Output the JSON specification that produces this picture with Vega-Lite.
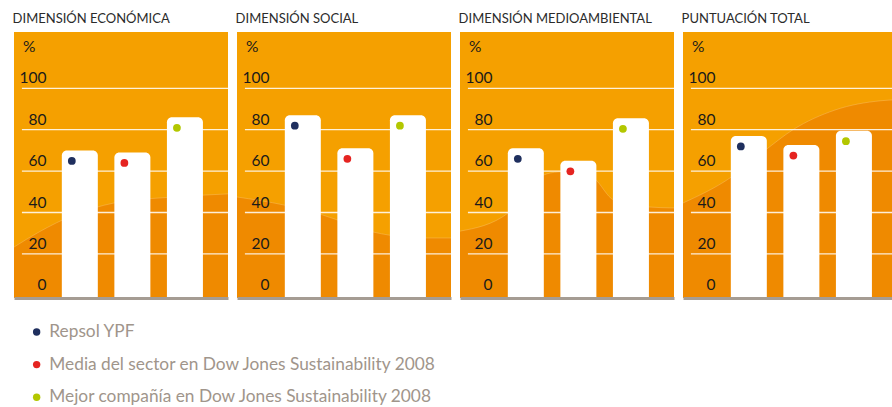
{
  "$schema": "https://vega.github.io/schema/vega-lite/v6.json",
  "background": "white",
  "padding": {"left": 12, "top": 13, "right": 0, "bottom": 0},
  "spacing": 9,
  "bounds": "flush",
  "config": {
    "view": {"fill": "#F5A000", "stroke": null},
    "font": "Lato",
    "title": {"anchor": "start", "font": "Lato", "fontSize": 13, "fontWeight": "normal", "color": "#2B2B2B", "offset": 6, "baseline": "alphabetic"}
  },
  "datasets": {
    "scores": [
      {"panel": "eco", "serie": "Repsol YPF", "v": 70},
      {"panel": "eco", "serie": "Media del sector en Dow Jones Sustainability 2008", "v": 69},
      {"panel": "eco", "serie": "Mejor compañía en Dow Jones Sustainability 2008", "v": 86},
      {"panel": "soc", "serie": "Repsol YPF", "v": 87},
      {"panel": "soc", "serie": "Media del sector en Dow Jones Sustainability 2008", "v": 71},
      {"panel": "soc", "serie": "Mejor compañía en Dow Jones Sustainability 2008", "v": 87},
      {"panel": "med", "serie": "Repsol YPF", "v": 71},
      {"panel": "med", "serie": "Media del sector en Dow Jones Sustainability 2008", "v": 65},
      {"panel": "med", "serie": "Mejor compañía en Dow Jones Sustainability 2008", "v": 85.5},
      {"panel": "tot", "serie": "Repsol YPF", "v": 77},
      {"panel": "tot", "serie": "Media del sector en Dow Jones Sustainability 2008", "v": 72.6},
      {"panel": "tot", "serie": "Mejor compañía en Dow Jones Sustainability 2008", "v": 79.5}
    ],
    "wave": [
      {"panel": "eco", "t": 0, "v": 23.3},
      {"panel": "eco", "t": 11.7, "v": 30.6},
      {"panel": "eco", "t": 28, "v": 38.8},
      {"panel": "eco", "t": 46.7, "v": 44.6},
      {"panel": "eco", "t": 74.8, "v": 47.5},
      {"panel": "eco", "t": 100, "v": 49},
      {"panel": "soc", "t": 0, "v": 47.5},
      {"panel": "soc", "t": 22, "v": 43.6},
      {"panel": "soc", "t": 40, "v": 38.8},
      {"panel": "soc", "t": 63.5, "v": 30.6},
      {"panel": "soc", "t": 71.5, "v": 29},
      {"panel": "soc", "t": 87, "v": 27.7},
      {"panel": "soc", "t": 100, "v": 27.7},
      {"panel": "med", "t": 0, "v": 31},
      {"panel": "med", "t": 22.4, "v": 39.7},
      {"panel": "med", "t": 38.8, "v": 58},
      {"panel": "med", "t": 46, "v": 59.6},
      {"panel": "med", "t": 57, "v": 60},
      {"panel": "med", "t": 62.6, "v": 56.7},
      {"panel": "med", "t": 71.9, "v": 46},
      {"panel": "med", "t": 87.8, "v": 42.7},
      {"panel": "med", "t": 100, "v": 42.2},
      {"panel": "tot", "t": 0, "v": 44.6},
      {"panel": "tot", "t": 22.4, "v": 57},
      {"panel": "tot", "t": 38.3, "v": 70},
      {"panel": "tot", "t": 51.4, "v": 80},
      {"panel": "tot", "t": 71, "v": 89.5},
      {"panel": "tot", "t": 92.5, "v": 94},
      {"panel": "tot", "t": 100, "v": 94.5}
    ],
    "grid": [{"v": 20}, {"v": 40}, {"v": 60}, {"v": 80}, {"v": 100}]
  },
  "resolve": {"scale": {"color": "shared"}, "legend": {"color": "shared"}},
  "hconcat": [
    {
      "width": 214, "height": 266,
      "title": "DIMENSIÓN ECONÓMICA",
      "resolve": {"scale": {"x": "independent"}, "axis": {"x": "independent"}},
      "layer": [
        {
          "layer": [
            {
              "data": {"name": "wave"},
              "transform": [{"filter": "datum.panel === 'eco'"}],
              "mark": {"type": "area", "color": "#EF8A00", "interpolate": "monotone", "opacity": 1},
              "encoding": {
                "x": {"field": "t", "type": "quantitative", "scale": {"domain": [0, 100]}, "axis": null},
                "y": {"field": "v", "type": "quantitative", "scale": {"domain": [-1.3, 127.2], "nice": false, "zero": false}, "axis": {"values": [0, 20, 40, 60, 80, 100], "grid": false, "ticks": false, "tickSize": 0, "domain": false, "labelPadding": -32, "labelAlign": "right", "labelBaseline": "alphabetic", "labelOffset": -5.5, "labelFontSize": 15.5, "labelFont": "Lato", "labelColor": "#1A1A1A", "title": "%", "titleAngle": 0, "titleAlign": "left", "titleBaseline": "alphabetic", "titleX": 8.5, "titleY": 19, "titleFontSize": 15.5, "titleFont": "Lato", "titleFontWeight": "normal", "titleColor": "#1A1A1A", "zindex": 1, "minExtent": 0, "offset": 0}},
                "y2": {"datum": -1.3}
              }
            },
            {
              "data": {"name": "wave"},
              "transform": [{"filter": "datum.panel === 'eco'"}],
              "mark": {"type": "line", "color": "#FAC56F", "interpolate": "monotone", "strokeWidth": 0.7, "opacity": 0.6},
              "encoding": {
                "x": {"field": "t", "type": "quantitative"},
                "y": {"field": "v", "type": "quantitative"}
              }
            },
            {
              "data": {"name": "grid"},
              "mark": {"type": "rule", "color": "#FFFFFF", "strokeWidth": 1.3, "opacity": 0.85},
              "encoding": {
                "x": {"datum": 3.7, "type": "quantitative"},
                "x2": {"datum": 100},
                "y": {"field": "v", "type": "quantitative"}
              }
            }
          ]
        },
        {
          "data": {"name": "scores"},
          "transform": [{"filter": "datum.panel === 'eco'"}],
          "layer": [
            {
              "mark": {"type": "bar", "color": "#FFFFFF", "cornerRadiusTopLeft": 5, "cornerRadiusTopRight": 5},
              "encoding": {
                "x": {"field": "serie", "type": "nominal", "sort": ["Repsol YPF", "Media del sector en Dow Jones Sustainability 2008", "Mejor compañía en Dow Jones Sustainability 2008"], "scale": {"paddingInner": 0.315, "paddingOuter": 0.6936, "align": 0.656}, "axis": {"orient": "bottom", "title": null, "labels": false, "ticks": false, "grid": false, "domain": true, "domainColor": "#A59C93", "domainWidth": 3, "zindex": 1}},
                "y": {"field": "v", "type": "quantitative"},
                "y2": {"datum": -1.3}
              }
            },
            {
              "mark": {"type": "circle", "size": 60, "opacity": 1, "xOffset": -8, "yOffset": 10.5},
              "encoding": {
                "x": {"field": "serie", "type": "nominal", "sort": ["Repsol YPF", "Media del sector en Dow Jones Sustainability 2008", "Mejor compañía en Dow Jones Sustainability 2008"]},
                "y": {"field": "v", "type": "quantitative"},
                "color": {"field": "serie", "type": "nominal", "scale": {"domain": ["Repsol YPF", "Media del sector en Dow Jones Sustainability 2008", "Mejor compañía en Dow Jones Sustainability 2008"], "range": ["#1F2F5E", "#E52421", "#B3C700"]}, "legend": {"orient": "none", "legendX": 14, "legendY": 292, "title": null, "direction": "vertical", "symbolType": "circle", "symbolSize": 55, "symbolStrokeWidth": 0, "labelFontSize": 17.3, "labelFont": "Lato", "labelColor": "#A0958B", "rowPadding": 14.6, "labelOffset": 4, "clipHeight": 16, "labelLimit": 600}}
              }
            }
          ]
        }
      ]
    },
    {
      "width": 214, "height": 266,
      "title": "DIMENSIÓN SOCIAL",
      "resolve": {"scale": {"x": "independent"}, "axis": {"x": "independent"}},
      "layer": [
        {
          "layer": [
            {
              "data": {"name": "wave"},
              "transform": [{"filter": "datum.panel === 'soc'"}],
              "mark": {"type": "area", "color": "#EF8A00", "interpolate": "monotone", "opacity": 1},
              "encoding": {
                "x": {"field": "t", "type": "quantitative", "scale": {"domain": [0, 100]}, "axis": null},
                "y": {"field": "v", "type": "quantitative", "scale": {"domain": [-1.3, 127.2], "nice": false, "zero": false}, "axis": {"values": [0, 20, 40, 60, 80, 100], "grid": false, "ticks": false, "tickSize": 0, "domain": false, "labelPadding": -32, "labelAlign": "right", "labelBaseline": "alphabetic", "labelOffset": -5.5, "labelFontSize": 15.5, "labelFont": "Lato", "labelColor": "#1A1A1A", "title": "%", "titleAngle": 0, "titleAlign": "left", "titleBaseline": "alphabetic", "titleX": 8.5, "titleY": 19, "titleFontSize": 15.5, "titleFont": "Lato", "titleFontWeight": "normal", "titleColor": "#1A1A1A", "zindex": 1, "minExtent": 0, "offset": 0}},
                "y2": {"datum": -1.3}
              }
            },
            {
              "data": {"name": "wave"},
              "transform": [{"filter": "datum.panel === 'soc'"}],
              "mark": {"type": "line", "color": "#FAC56F", "interpolate": "monotone", "strokeWidth": 0.7, "opacity": 0.6},
              "encoding": {
                "x": {"field": "t", "type": "quantitative"},
                "y": {"field": "v", "type": "quantitative"}
              }
            },
            {
              "data": {"name": "grid"},
              "mark": {"type": "rule", "color": "#FFFFFF", "strokeWidth": 1.3, "opacity": 0.85},
              "encoding": {
                "x": {"datum": 3.7, "type": "quantitative"},
                "x2": {"datum": 100},
                "y": {"field": "v", "type": "quantitative"}
              }
            }
          ]
        },
        {
          "data": {"name": "scores"},
          "transform": [{"filter": "datum.panel === 'soc'"}],
          "layer": [
            {
              "mark": {"type": "bar", "color": "#FFFFFF", "cornerRadiusTopLeft": 5, "cornerRadiusTopRight": 5},
              "encoding": {
                "x": {"field": "serie", "type": "nominal", "sort": ["Repsol YPF", "Media del sector en Dow Jones Sustainability 2008", "Mejor compañía en Dow Jones Sustainability 2008"], "scale": {"paddingInner": 0.315, "paddingOuter": 0.6936, "align": 0.656}, "axis": {"orient": "bottom", "title": null, "labels": false, "ticks": false, "grid": false, "domain": true, "domainColor": "#A59C93", "domainWidth": 3, "zindex": 1}},
                "y": {"field": "v", "type": "quantitative"},
                "y2": {"datum": -1.3}
              }
            },
            {
              "mark": {"type": "circle", "size": 60, "opacity": 1, "xOffset": -8, "yOffset": 10.5},
              "encoding": {
                "x": {"field": "serie", "type": "nominal", "sort": ["Repsol YPF", "Media del sector en Dow Jones Sustainability 2008", "Mejor compañía en Dow Jones Sustainability 2008"]},
                "y": {"field": "v", "type": "quantitative"},
                "color": {"field": "serie", "type": "nominal"}
              }
            }
          ]
        }
      ]
    },
    {
      "width": 214, "height": 266,
      "title": "DIMENSIÓN MEDIOAMBIENTAL",
      "resolve": {"scale": {"x": "independent"}, "axis": {"x": "independent"}},
      "layer": [
        {
          "layer": [
            {
              "data": {"name": "wave"},
              "transform": [{"filter": "datum.panel === 'med'"}],
              "mark": {"type": "area", "color": "#EF8A00", "interpolate": "monotone", "opacity": 1},
              "encoding": {
                "x": {"field": "t", "type": "quantitative", "scale": {"domain": [0, 100]}, "axis": null},
                "y": {"field": "v", "type": "quantitative", "scale": {"domain": [-1.3, 127.2], "nice": false, "zero": false}, "axis": {"values": [0, 20, 40, 60, 80, 100], "grid": false, "ticks": false, "tickSize": 0, "domain": false, "labelPadding": -32, "labelAlign": "right", "labelBaseline": "alphabetic", "labelOffset": -5.5, "labelFontSize": 15.5, "labelFont": "Lato", "labelColor": "#1A1A1A", "title": "%", "titleAngle": 0, "titleAlign": "left", "titleBaseline": "alphabetic", "titleX": 8.5, "titleY": 19, "titleFontSize": 15.5, "titleFont": "Lato", "titleFontWeight": "normal", "titleColor": "#1A1A1A", "zindex": 1, "minExtent": 0, "offset": 0}},
                "y2": {"datum": -1.3}
              }
            },
            {
              "data": {"name": "wave"},
              "transform": [{"filter": "datum.panel === 'med'"}],
              "mark": {"type": "line", "color": "#FAC56F", "interpolate": "monotone", "strokeWidth": 0.7, "opacity": 0.6},
              "encoding": {
                "x": {"field": "t", "type": "quantitative"},
                "y": {"field": "v", "type": "quantitative"}
              }
            },
            {
              "data": {"name": "grid"},
              "mark": {"type": "rule", "color": "#FFFFFF", "strokeWidth": 1.3, "opacity": 0.85},
              "encoding": {
                "x": {"datum": 3.7, "type": "quantitative"},
                "x2": {"datum": 100},
                "y": {"field": "v", "type": "quantitative"}
              }
            }
          ]
        },
        {
          "data": {"name": "scores"},
          "transform": [{"filter": "datum.panel === 'med'"}],
          "layer": [
            {
              "mark": {"type": "bar", "color": "#FFFFFF", "cornerRadiusTopLeft": 5, "cornerRadiusTopRight": 5},
              "encoding": {
                "x": {"field": "serie", "type": "nominal", "sort": ["Repsol YPF", "Media del sector en Dow Jones Sustainability 2008", "Mejor compañía en Dow Jones Sustainability 2008"], "scale": {"paddingInner": 0.315, "paddingOuter": 0.6936, "align": 0.656}, "axis": {"orient": "bottom", "title": null, "labels": false, "ticks": false, "grid": false, "domain": true, "domainColor": "#A59C93", "domainWidth": 3, "zindex": 1}},
                "y": {"field": "v", "type": "quantitative"},
                "y2": {"datum": -1.3}
              }
            },
            {
              "mark": {"type": "circle", "size": 60, "opacity": 1, "xOffset": -8, "yOffset": 10.5},
              "encoding": {
                "x": {"field": "serie", "type": "nominal", "sort": ["Repsol YPF", "Media del sector en Dow Jones Sustainability 2008", "Mejor compañía en Dow Jones Sustainability 2008"]},
                "y": {"field": "v", "type": "quantitative"},
                "color": {"field": "serie", "type": "nominal"}
              }
            }
          ]
        }
      ]
    },
    {
      "width": 214, "height": 266,
      "title": "PUNTUACIÓN TOTAL",
      "resolve": {"scale": {"x": "independent"}, "axis": {"x": "independent"}},
      "layer": [
        {
          "layer": [
            {
              "data": {"name": "wave"},
              "transform": [{"filter": "datum.panel === 'tot'"}],
              "mark": {"type": "area", "color": "#EF8A00", "interpolate": "monotone", "opacity": 1},
              "encoding": {
                "x": {"field": "t", "type": "quantitative", "scale": {"domain": [0, 100]}, "axis": null},
                "y": {"field": "v", "type": "quantitative", "scale": {"domain": [-1.3, 127.2], "nice": false, "zero": false}, "axis": {"values": [0, 20, 40, 60, 80, 100], "grid": false, "ticks": false, "tickSize": 0, "domain": false, "labelPadding": -32, "labelAlign": "right", "labelBaseline": "alphabetic", "labelOffset": -5.5, "labelFontSize": 15.5, "labelFont": "Lato", "labelColor": "#1A1A1A", "title": "%", "titleAngle": 0, "titleAlign": "left", "titleBaseline": "alphabetic", "titleX": 8.5, "titleY": 19, "titleFontSize": 15.5, "titleFont": "Lato", "titleFontWeight": "normal", "titleColor": "#1A1A1A", "zindex": 1, "minExtent": 0, "offset": 0}},
                "y2": {"datum": -1.3}
              }
            },
            {
              "data": {"name": "wave"},
              "transform": [{"filter": "datum.panel === 'tot'"}],
              "mark": {"type": "line", "color": "#FAC56F", "interpolate": "monotone", "strokeWidth": 0.7, "opacity": 0.6},
              "encoding": {
                "x": {"field": "t", "type": "quantitative"},
                "y": {"field": "v", "type": "quantitative"}
              }
            },
            {
              "data": {"name": "grid"},
              "mark": {"type": "rule", "color": "#FFFFFF", "strokeWidth": 1.3, "opacity": 0.85},
              "encoding": {
                "x": {"datum": 3.7, "type": "quantitative"},
                "x2": {"datum": 100},
                "y": {"field": "v", "type": "quantitative"}
              }
            }
          ]
        },
        {
          "data": {"name": "scores"},
          "transform": [{"filter": "datum.panel === 'tot'"}],
          "layer": [
            {
              "mark": {"type": "bar", "color": "#FFFFFF", "cornerRadiusTopLeft": 5, "cornerRadiusTopRight": 5},
              "encoding": {
                "x": {"field": "serie", "type": "nominal", "sort": ["Repsol YPF", "Media del sector en Dow Jones Sustainability 2008", "Mejor compañía en Dow Jones Sustainability 2008"], "scale": {"paddingInner": 0.315, "paddingOuter": 0.6936, "align": 0.656}, "axis": {"orient": "bottom", "title": null, "labels": false, "ticks": false, "grid": false, "domain": true, "domainColor": "#A59C93", "domainWidth": 3, "zindex": 1}},
                "y": {"field": "v", "type": "quantitative"},
                "y2": {"datum": -1.3}
              }
            },
            {
              "mark": {"type": "circle", "size": 60, "opacity": 1, "xOffset": -8, "yOffset": 10.5},
              "encoding": {
                "x": {"field": "serie", "type": "nominal", "sort": ["Repsol YPF", "Media del sector en Dow Jones Sustainability 2008", "Mejor compañía en Dow Jones Sustainability 2008"]},
                "y": {"field": "v", "type": "quantitative"},
                "color": {"field": "serie", "type": "nominal"}
              }
            }
          ]
        }
      ]
    }
  ]
}
